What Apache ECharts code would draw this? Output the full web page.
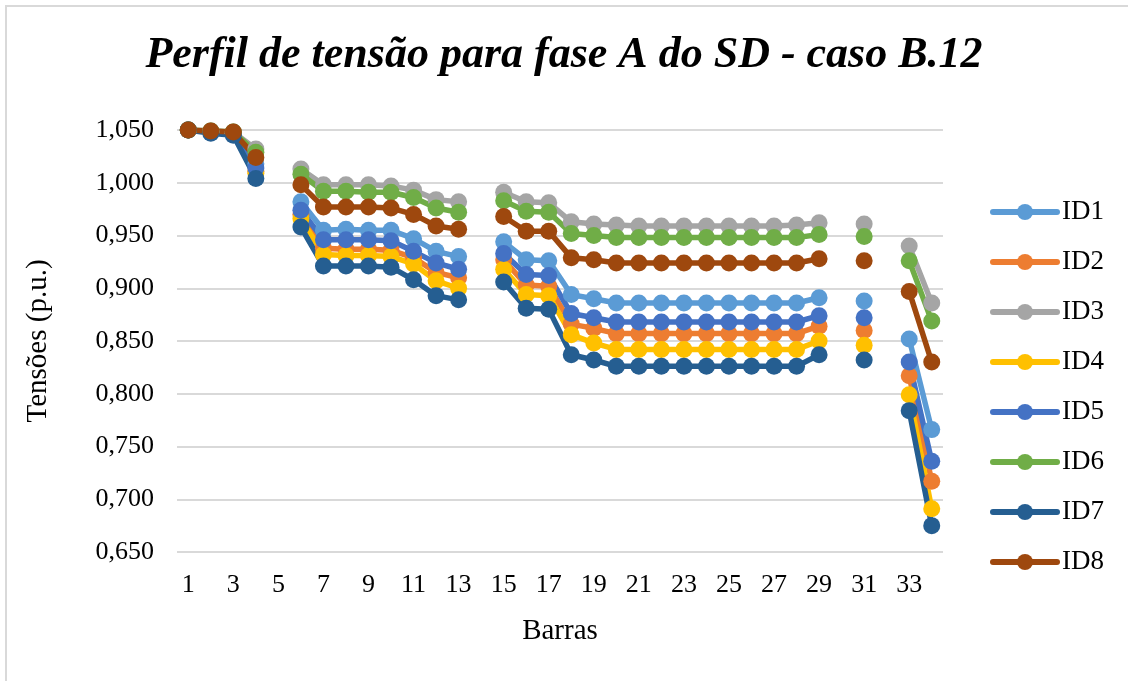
<!DOCTYPE html>
<html>
<head>
<meta charset="utf-8">
<script src="https://cdn.jsdelivr.net/npm/echarts@6/dist/echarts.min.js"></script>
<style>
  html, body { margin: 0; padding: 0; background: #ffffff; }
  #chart { width: 1128px; height: 681px; }
</style>
</head>
<body>
<div id="chart"></div>
<script>
// Bus numbers along the feeder (buses 5, 14, 30 and 32 have no phase A reading)
const barras = ['1','2','3','4','5','6','7','8','9','10','11','12','13','14','15','16','17',
  '18','19','20','21','22','23','24','25','26','27','28','29','30','31','32','33','34'];

// Phase A voltage (p.u.) per bus for each scenario
const id1 = [1.050,1.048,1.047,1.018,null,0.982,0.955,0.956,0.955,0.955,0.947,0.935,0.930,null,
  0.944,0.927,0.926,0.894,0.890,0.886,0.886,0.886,0.886,0.886,0.886,0.886,0.886,0.886,0.891,null,0.888,null,0.852,0.766];
const id2 = [1.050,1.048,1.047,1.011,null,0.970,0.938,0.937,0.937,0.936,0.929,0.915,0.910,null,
  0.927,0.903,0.902,0.866,0.862,0.857,0.857,0.857,0.857,0.857,0.857,0.857,0.857,0.857,0.864,null,0.860,null,0.817,0.717];
const id3 = [1.050,1.049,1.048,1.032,null,1.013,0.998,0.998,0.998,0.997,0.993,0.984,0.982,null,
  0.991,0.982,0.981,0.963,0.961,0.960,0.959,0.959,0.959,0.959,0.959,0.959,0.959,0.960,0.962,null,0.961,null,0.940,0.886];
const id4 = [1.050,1.048,1.047,1.009,null,0.966,0.932,0.931,0.931,0.930,0.923,0.907,0.900,null,
  0.918,0.894,0.893,0.856,0.848,0.842,0.842,0.842,0.842,0.842,0.842,0.842,0.842,0.842,0.850,null,0.846,null,0.799,0.691];
const id5 = [1.050,1.048,1.047,1.014,null,0.974,0.946,0.946,0.946,0.945,0.935,0.924,0.918,null,
  0.933,0.913,0.912,0.876,0.872,0.868,0.868,0.868,0.868,0.868,0.868,0.868,0.868,0.868,0.874,null,0.872,null,0.830,0.736];
const id6 = [1.050,1.049,1.048,1.029,null,1.008,0.992,0.992,0.991,0.991,0.986,0.976,0.972,null,
  0.983,0.973,0.972,0.952,0.950,0.948,0.948,0.948,0.948,0.948,0.948,0.948,0.948,0.948,0.951,null,0.949,null,0.926,0.869];
const id7 = [1.050,1.047,1.045,1.004,null,0.958,0.921,0.921,0.921,0.920,0.908,0.893,0.889,null,
  0.906,0.881,0.880,0.837,0.832,0.826,0.826,0.826,0.826,0.826,0.826,0.826,0.826,0.826,0.837,null,0.832,null,0.784,0.675];
const id8 = [1.050,1.049,1.048,1.024,null,0.998,0.977,0.977,0.977,0.976,0.970,0.959,0.956,null,
  0.968,0.954,0.954,0.929,0.927,0.924,0.924,0.924,0.924,0.924,0.924,0.924,0.924,0.924,0.928,null,0.926,null,0.897,0.830];

const seriesNames = ['ID1','ID2','ID3','ID4','ID5','ID6','ID7','ID8'];
const seriesData = [id1, id2, id3, id4, id5, id6, id7, id8];
const seriesColors = ['#5B9BD5','#ED7D31','#A5A5A5','#FFC000','#4472C4','#70AD47','#255E91','#9E480E'];

const FONT = '"Liberation Serif", "Times New Roman", serif';

const chart = echarts.init(document.getElementById('chart'), null, { renderer: 'canvas' });

chart.setOption({
  backgroundColor: '#ffffff',
  animation: false,
  color: seriesColors,
  title: {
    text: 'Perfil de tensão para fase A do SD - caso B.12',
    left: 'center',
    top: 29,
    textStyle: {
      fontFamily: FONT,
      fontSize: 44,
      fontWeight: 'bold',
      fontStyle: 'italic',
      color: '#000000'
    }
  },
  graphic: [{
    type: 'rect',
    shape: { x: 6, y: 6, width: 1140, height: 700 },
    style: { fill: 'none', stroke: '#d9d9d9', lineWidth: 2 },
    silent: true
  }],
  legend: {
    orient: 'vertical',
    left: 990,
    top: 197,
    padding: 0,
    itemWidth: 64,
    itemHeight: 20,
    itemGap: 20,
    lineStyle: { width: 6, cap: 'round' },
    textStyle: { fontFamily: FONT, fontSize: 27, color: '#000000', lineHeight: 30 },
    data: seriesNames
  },
  grid: { left: 177, right: 185, top: 130, bottom: 129 },
  xAxis: {
    type: 'category',
    data: barras,
    boundaryGap: true,
    name: 'Barras',
    nameLocation: 'middle',
    nameGap: 65,
    nameTextStyle: { fontFamily: FONT, fontSize: 29, color: '#000000' },
    axisLine: { show: false },
    axisTick: { show: false },
    axisLabel: { interval: 1, margin: 20, fontFamily: FONT, fontSize: 26, color: '#000000' }
  },
  yAxis: {
    type: 'value',
    min: 0.65,
    max: 1.05,
    interval: 0.05,
    name: 'Tensões (p.u.)',
    nameLocation: 'middle',
    nameGap: 124,
    nameTextStyle: { fontFamily: FONT, fontSize: 29, color: '#000000' },
    axisLine: { show: false },
    axisTick: { show: false },
    splitLine: { lineStyle: { color: '#d9d9d9', width: 2 } },
    axisLabel: {
      margin: 23,
      fontFamily: FONT,
      fontSize: 26,
      color: '#000000',
      formatter: v => v.toFixed(3).replace('.', ',')
    }
  },
  series: seriesNames.map((name, i) => ({
    name: name,
    type: 'line',
    data: seriesData[i],
    connectNulls: false,
    symbol: 'circle',
    symbolSize: 17,
    showAllSymbol: true,
    lineStyle: { width: 5.5, color: seriesColors[i], cap: 'round', join: 'round' },
    itemStyle: { color: seriesColors[i], borderWidth: 0 },
    emphasis: { disabled: true }
  }))
});
</script>
</body>
</html>
